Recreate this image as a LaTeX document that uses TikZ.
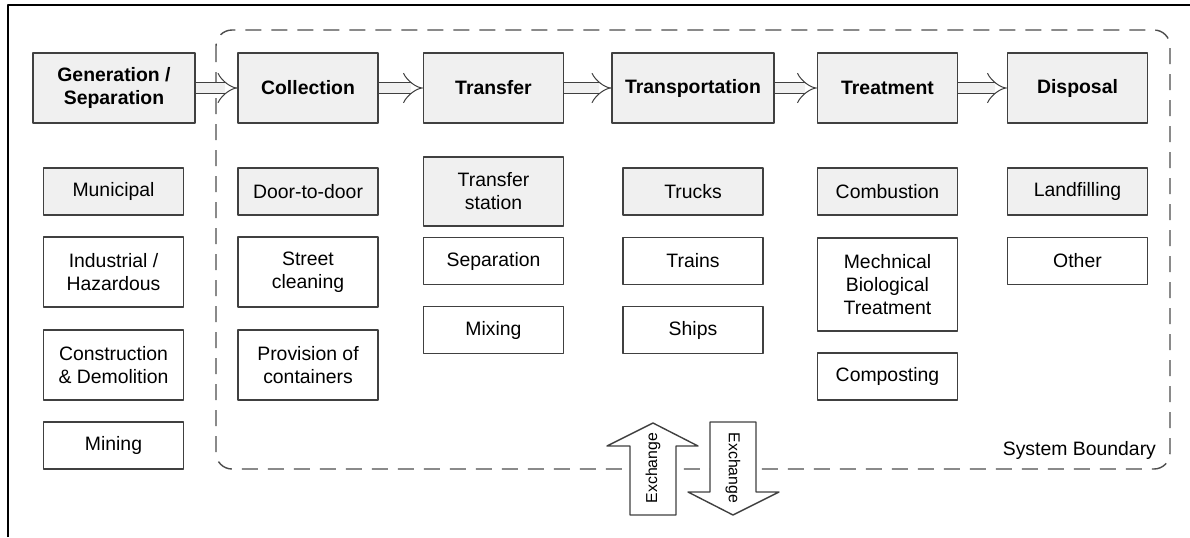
\documentclass[tikz,border=0pt]{standalone}
\usepackage{fontspec}
\setmainfont{Liberation Sans}
\usetikzlibrary{arrows.meta}
\begin{document}
\begin{tikzpicture}[x=0.5pt,y=-0.5pt,line join=round,font=\fontsize{9.7}{11.5}\selectfont,
  stage/.style={draw=black!75,fill=gray!12,line width=0.7pt,font=\fontsize{9.7}{11.5}\selectfont\bfseries,align=center,minimum width=70pt,minimum height=35pt},
  item/.style={draw=black!75,line width=0.7pt,align=center,minimum width=70pt,minimum height=23.5pt},
  keyitem/.style={item,fill=gray!12},
  flow/.style={draw=black!75,line width=0.5pt,double=gray!12,double distance=5pt,-{Implies}},
  xarrow/.style={draw=black!75,line width=0.7pt,fill=white}]
\useasboundingbox (0,0) rectangle (1190,537);
\draw[line width=1pt] (8,537)--(8,5)--(1190,5);
\draw[black!70,line width=0.7pt,dash pattern=on 8pt off 5pt,rounded corners=8pt] (216,30) rectangle (1170,469);
\node[anchor=base east] (sb) at (1163,455) {System Boundary};
% main stages
\node[stage,minimum width=81pt] (gen) at (114,88) {Generation /\\Separation};
\node[stage] (coll) at (308,88) {Collection};
\node[stage] (trf) at (493.5,88) {Transfer};
\node[stage,minimum width=81pt] (trp) at (693,88) {Transportation};
\node[stage] (treat) at (887.5,88) {Treatment};
\node[stage] (disp) at (1077.5,88) {Disposal};
\foreach \a/\b in {gen/coll,coll/trf,trf/trp,trp/treat,treat/disp}
  \draw[flow] (\a)--(\b);
% sources
\node[keyitem] (mun) at (113.5,191.5) {Municipal};
\node[item,minimum height=35pt] (ind) at (113.5,272) {Industrial /\\Hazardous};
\node[item,minimum height=35pt] (cnd) at (113.5,365) {Construction\\\& Demolition};
\node[item] (min) at (113.5,445.5) {Mining};
% collection
\node[keyitem] (door) at (308,191.5) {Door-to-door};
\node[item,minimum height=35pt] (street) at (308,272) {Street\\cleaning};
\node[item,minimum height=35pt] (cont) at (308,365) {Provision of\\containers};
% transfer
\node[keyitem,minimum height=34.5pt] (station) at (493.5,191.5) {Transfer\\station};
\node[item] (sep) at (493.5,261) {Separation};
\node[item] (mix) at (493.5,330) {Mixing};
% transportation
\node[keyitem] (trucks) at (693,191.5) {Trucks};
\node[item] (trains) at (693,261) {Trains};
\node[item] (ships) at (693,330) {Ships};
% treatment
\node[keyitem] (comb) at (887.5,191.5) {Combustion};
\node[item,minimum height=46.5pt] (mbt) at (887.5,284.5) {Mechnical\\Biological\\Treatment};
\node[item] (comp) at (887.5,376.5) {Composting};
% disposal
\node[keyitem] (land) at (1077.5,191.5) {Landfilling};
\node[item] (other) at (1077.5,261) {Other};
% exchange
\draw[xarrow] (630,515)--(630,446)--(607,446)--(653,423)--(698,446)--(676,446)--(676,515)--cycle;
\draw[xarrow] (710,422)--(756,422)--(756,492)--(779,492)--(733,515)--(688,492)--(710,492)--cycle;
\node[rotate=90,font=\fontsize{7.9}{9}\selectfont] (xin) at (653,468) {Exchange};
\node[rotate=-90,font=\fontsize{7.9}{9}\selectfont] (xout) at (733,468) {Exchange};
\end{tikzpicture}
\end{document}
